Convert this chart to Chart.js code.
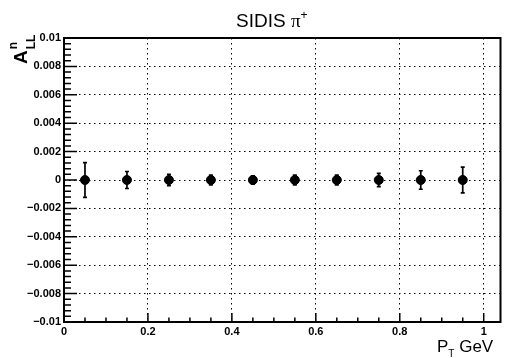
<!DOCTYPE html>
<html>
<head>
<meta charset="utf-8">
<script src="https://cdn.jsdelivr.net/npm/chart.js@4.4.1/dist/chart.umd.min.js"></script>
<style>
  html, body { margin: 0; padding: 0; background: #fff; }
  #wrap { width: 506px; height: 358px; }
</style>
</head>
<body>
<div id="wrap"><canvas id="asymChart" width="506" height="358"></canvas></div>
<script>
// --- data ---
const ptBins  = [0.05, 0.15, 0.25, 0.35, 0.45, 0.55, 0.65, 0.75, 0.85, 0.95];
const asymVal = [0, 0, 0, 0, 0, 0, 0, 0, 0, 0];
const asymErr = [0.00122, 0.0006, 0.0004, 0.00035, 0.0003, 0.00035, 0.00035, 0.00047, 0.00065, 0.0009];

const xRange = [0, 1.04];
const yRange = [-0.01, 0.01];

const titleText = 'SIDIS ';
const xTitle = ['P', 'T', ' GeV'];   // main, subscript, rest
const yTitle = ['A', 'n', 'LL'];     // main, superscript, subscript

const tickFont = { family: 'Liberation Sans, Arial, sans-serif', size: 11, weight: 'bold' };

// format tick values like ROOT does (0.01, 0.008, 0, -0.002 ...)
function fmtTick(v) {
    const r = Math.round(v * 10000) / 10000;
    if (r === 0) return '0';
    const s = String(Math.abs(r));
    return r < 0 ? '\u2212' + s : s;
}

// error bars, drawn under the markers
const errorBarPlugin = {
    id: 'errorBars',
    beforeDatasetsDraw(chart) {
        const ctx = chart.ctx;
        const xs = chart.scales.x, ys = chart.scales.y;
        ctx.save();
        ctx.strokeStyle = '#000';
        ctx.lineWidth = 1.7;
        ptBins.forEach((x, i) => {
            const px = xs.getPixelForValue(x);
            const top = ys.getPixelForValue(asymVal[i] + asymErr[i]);
            const bot = ys.getPixelForValue(asymVal[i] - asymErr[i]);
            ctx.beginPath();
            ctx.moveTo(px, top); ctx.lineTo(px, bot);
            ctx.moveTo(px - 2, top); ctx.lineTo(px + 2, top);
            ctx.moveTo(px - 2, bot); ctx.lineTo(px + 2, bot);
            ctx.stroke();
        });
        ctx.restore();
    }
};

// frame, inside tick marks and the titles
const framePlugin = {
    id: 'rootFrame',
    afterDraw(chart) {
        const ctx = chart.ctx;
        const a = chart.chartArea;
        const xs = chart.scales.x, ys = chart.scales.y;
        ctx.save();
        ctx.strokeStyle = '#000';

        // tick marks on the left axis
        ctx.lineWidth = 1.5;
        ctx.beginPath();
        for (let k = 0; k <= 50; k++) {
            const v = yRange[0] + k * 0.0004;
            const py = ys.getPixelForValue(v);
            const len = (k % 5 === 0) ? 13 : 7;
            ctx.moveTo(a.left, py); ctx.lineTo(a.left + len, py);
        }
        // tick marks on the bottom axis
        for (let k = 0; k <= 20; k++) {
            const v = k * 0.05;
            const px = xs.getPixelForValue(v);
            const len = (k % 4 === 0) ? 9 : 4.5;
            ctx.moveTo(px, a.bottom); ctx.lineTo(px, a.bottom - len);
        }
        ctx.stroke();

        // frame
        ctx.lineWidth = 2;
        ctx.strokeRect(a.left, a.top, a.right - a.left, a.bottom - a.top);

        ctx.fillStyle = '#000';
        ctx.textBaseline = 'alphabetic';
        ctx.textAlign = 'left';

        // title
        ctx.font = '19px "Liberation Sans", Arial, sans-serif';
        let tx = 236;
        ctx.fillText(titleText, tx, 27);
        tx += ctx.measureText(titleText).width;
        ctx.font = '19px "Liberation Serif", serif';
        ctx.fillText('\u03c0', tx, 27);
        tx += ctx.measureText('\u03c0').width;
        ctx.font = '12px "Liberation Sans", Arial, sans-serif';
        ctx.fillText('+', tx, 19);

        // x title
        ctx.font = '17px "Liberation Sans", Arial, sans-serif';
        let xx = 437;
        ctx.fillText(xTitle[0], xx, 352);
        xx += ctx.measureText(xTitle[0]).width;
        ctx.font = '10px "Liberation Sans", Arial, sans-serif';
        ctx.fillText(xTitle[1], xx, 357);
        xx += ctx.measureText(xTitle[1]).width;
        ctx.font = '17px "Liberation Sans", Arial, sans-serif';
        ctx.fillText(xTitle[2], xx, 352);

        // y title, rotated
        ctx.translate(27, 64);
        ctx.rotate(-Math.PI / 2);
        ctx.font = 'bold 19px "Liberation Sans", Arial, sans-serif';
        ctx.fillText(yTitle[0], 0, 0);
        const wA = ctx.measureText(yTitle[0]).width;
        ctx.font = 'bold 12px "Liberation Sans", Arial, sans-serif';
        ctx.fillText(yTitle[1], wA + 1, -10);
        ctx.fillText(yTitle[2], wA + 1, 8);
        ctx.restore();
    }
};

const ctx = document.getElementById('asymChart').getContext('2d');
new Chart(ctx, {
    type: 'scatter',
    data: {
        datasets: [{
            data: ptBins.map((x, i) => ({ x, y: asymVal[i] })),
            backgroundColor: '#000',
            borderColor: '#000',
            pointRadius: 4.5,
            pointHoverRadius: 4.5
        }]
    },
    options: {
        responsive: false,
        animation: false,
        devicePixelRatio: 1,
        layout: { padding: { top: 38, right: 3, left: 0, bottom: 0 } },
        plugins: { legend: { display: false }, tooltip: { enabled: false } },
        scales: {
            x: {
                type: 'linear',
                min: xRange[0],
                max: xRange[1],
                afterFit: (scale) => { scale.height = 36; },
                ticks: {
                    stepSize: 0.2,
                    includeBounds: false,
                    maxRotation: 0,
                    padding: 3,
                    color: '#000',
                    font: tickFont,
                    callback: fmtTick
                },
                grid: { color: '#000', lineWidth: 1, drawTicks: false },
                border: { display: false, dash: [1.5, 3.5] }
            },
            y: {
                type: 'linear',
                min: yRange[0],
                max: yRange[1],
                afterFit: (scale) => { scale.width = 64; },
                ticks: {
                    stepSize: 0.002,
                    padding: 3,
                    color: '#000',
                    font: tickFont,
                    callback: fmtTick
                },
                grid: { color: '#000', lineWidth: 1, drawTicks: false },
                border: { display: false, dash: [1.5, 3.5] }
            }
        }
    },
    plugins: [errorBarPlugin, framePlugin]
});
</script>
</body>
</html>
